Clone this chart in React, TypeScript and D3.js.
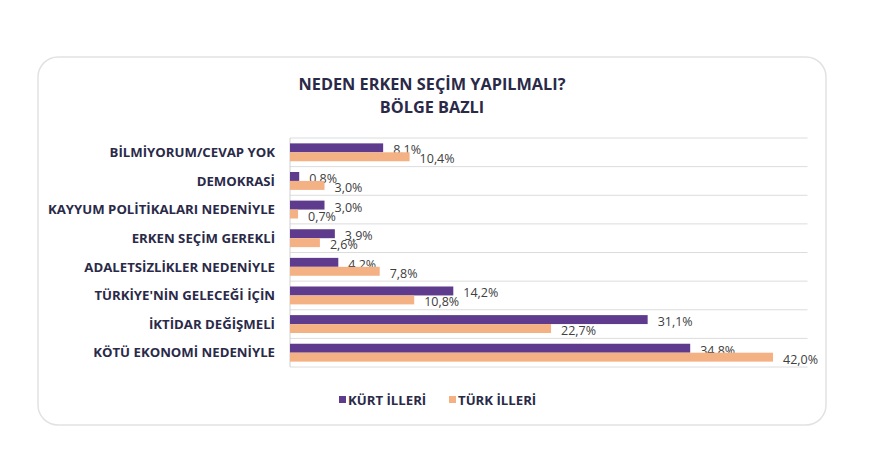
import React from "react";
import * as d3 from "d3";

const categories = [
  "BİLMİYORUM/CEVAP YOK",
  "DEMOKRASİ",
  "KAYYUM POLİTİKALARI NEDENİYLE",
  "ERKEN SEÇİM GEREKLİ",
  "ADALETSİZLİKLER NEDENİYLE",
  "TÜRKİYE'NİN GELECEĞİ İÇİN",
  "İKTİDAR DEĞİŞMELİ",
  "KÖTÜ EKONOMİ NEDENİYLE",
];
const kurtIlleri = [8.1, 0.8, 3.0, 3.9, 4.2, 14.2, 31.1, 34.8];
const turkIlleri = [10.4, 3.0, 0.7, 2.6, 7.8, 10.8, 22.7, 42.0];
const seriesNames = ["KÜRT İLLERİ", "TÜRK İLLERİ"];
const seriesColors = ["#5e3b8c", "#f4b183"];
const titleLines = ["NEDEN ERKEN SEÇİM YAPILMALI?", "BÖLGE BAZLI"];

const W = 888;
const H = 457;
const card = { x: 38, y: 57, w: 788, h: 368 };
const plot = { left: 290, right: 807.5, top: 138, bottom: 367 };

const fmt = (v: number) => v.toFixed(1).replace(".", ",") + "%";

export default function App() {
  const x = d3.scaleLinear().domain([0, 45]).range([plot.left, plot.right]);
  const y = d3.scaleBand<string>().domain(categories).range([plot.top, plot.bottom]).padding(0);
  const inner = d3
    .scaleBand<string>()
    .domain(seriesNames)
    .range([0, y.bandwidth()])
    .paddingInner(0)
    .paddingOuter(0.6);
  const series = [kurtIlleri, turkIlleri];
  const labelFont = "'Open Sans', 'Noto Sans', sans-serif";
  const textColor = "#2a2a48";

  return (
    <div style={{ position: "absolute", left: 0, top: 0 }}>
      <svg width={W} height={H} style={{ display: "block", background: "#fff" }}>
        <rect
          x={card.x}
          y={card.y}
          width={card.w}
          height={card.h}
          rx={20}
          ry={20}
          fill="#fff"
          stroke="#e2e2e2"
          strokeWidth={1.5}
        />
        {titleLines.map((t, i) => (
          <text
            key={t}
            x={card.x + card.w / 2}
            y={90 + i * 23}
            textAnchor="middle"
            fontFamily={labelFont}
            fontWeight={700}
            fontSize={16.3}
            fill={textColor}
          >
            {t}
          </text>
        ))}
        {categories.map((c) => (
          <line
            key={"g" + c}
            x1={plot.left}
            x2={plot.right}
            y1={y(c)!}
            y2={y(c)!}
            stroke="#dcdcdc"
            strokeWidth={1}
          />
        ))}
        <line
          x1={plot.left}
          x2={plot.right}
          y1={plot.bottom}
          y2={plot.bottom}
          stroke="#dcdcdc"
          strokeWidth={1}
        />
        <line
          x1={plot.left}
          x2={plot.left}
          y1={plot.top}
          y2={plot.bottom}
          stroke="#d0d0d0"
          strokeWidth={1}
        />
        {categories.map((c, ci) => (
          <g key={c}>
            <text
              x={275}
              y={y(c)! + y.bandwidth() / 2}
              dy="0.36em"
              textAnchor="end"
              fontFamily={labelFont}
              fontWeight={700}
              fontSize={13.2}
              fill={textColor}
            >
              {c}
            </text>
            {series.map((s, si) => {
              const by = y(c)! + inner(seriesNames[si])!;
              const bw = x(s[ci]) - x(0);
              return (
                <g key={si}>
                  <rect
                    x={x(0)}
                    y={by}
                    width={bw}
                    height={inner.bandwidth()}
                    fill={seriesColors[si]}
                  />
                  <text
                    x={x(s[ci]) + 10}
                    y={by + inner.bandwidth() / 2 + 6.5}
                    fontFamily={labelFont}
                    fontSize={12.5}
                    fill="#404040"
                  >
                    {fmt(s[ci])}
                  </text>
                </g>
              );
            })}
          </g>
        ))}
        {seriesNames.map((n, i) => {
          const lx = [339, 449][i];
          return (
            <g key={n}>
              <rect x={lx} y={396} width={7} height={7} fill={seriesColors[i]} />
              <text
                x={lx + 9}
                y={405}
                fontFamily={labelFont}
                fontWeight={700}
                fontSize={13.2}
                fill={textColor}
              >
                {n}
              </text>
            </g>
          );
        })}
      </svg>
    </div>
  );
}
